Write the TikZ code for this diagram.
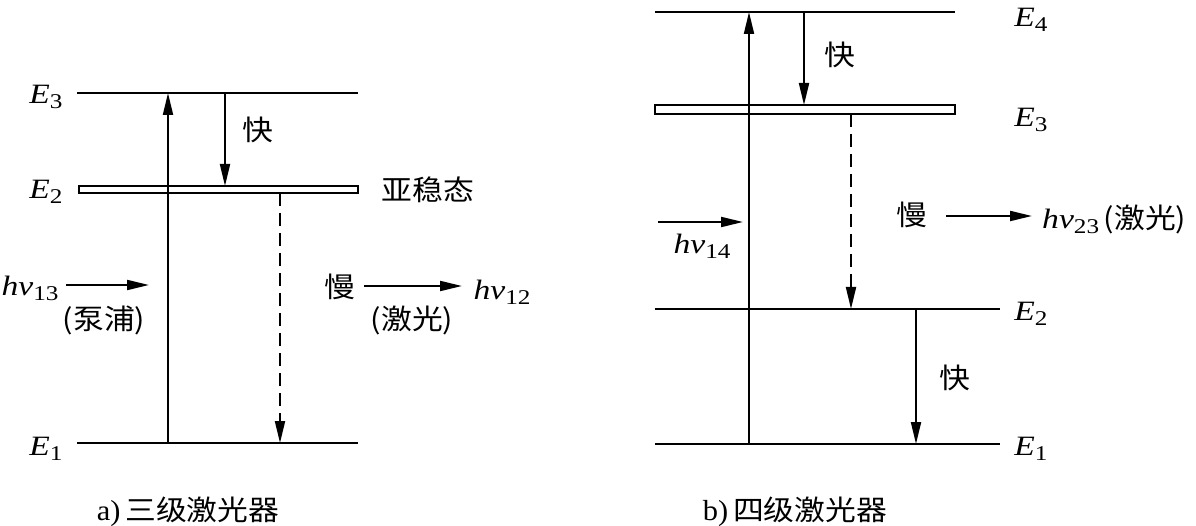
\documentclass[tikz,border=0pt]{standalone}
\usepackage{fontspec}
\setmainfont{Liberation Serif}[FakeStretch=1.2]
\newfontfamily\cjk{Noto Sans CJK SC}[FakeStretch=1.1]
\usetikzlibrary{arrows.meta}
\newcommand{\lvsub}[1]{\raisebox{-0.4ex}{\fontsize{21}{21}\selectfont #1}}
\newcommand{\En}[1]{\textit{E}\lvsub{#1}}
\newcommand{\hv}[1]{\textit{hv}\lvsub{#1}}
\begin{document}
\begin{tikzpicture}[x=1pt,y=-1pt,
  lvl/.style={line width=2pt},
  arr/.style={line width=2pt,-{Triangle[length=22pt,width=10pt]}},
  dsh/.style={arr,dash pattern=on 13pt off 7pt},
  lab/.style={font=\fontsize{28}{30}\selectfont, inner sep=0pt},
  zh/.style={font=\fontsize{28}{31}\selectfont\cjk, inner sep=0pt}]
\useasboundingbox (0,0) rectangle (1196,526);
% ---------- left: three-level laser ----------
\coordinate (a3w) at (77,93);  \coordinate (a3e) at (358,93);
\coordinate (a1w) at (77,443); \coordinate (a1e) at (358,443);
\draw[lvl] (a3w) -- (a3e);
\draw[lvl] (a1w) -- (a1e);
\draw[lvl] (79,186) rectangle (358,193);
\coordinate (ap0) at (168,443); \coordinate (ap1) at (168,93);
\coordinate (af0) at (225,93);  \coordinate (af1) at (225,186);
\coordinate (ad0) at (280,193); \coordinate (ad1) at (280,443);
\draw[arr] (ap0) -- (ap1);
\draw[arr] (af0) -- (af1);
\draw[dsh] (ad0) -- (ad1);
\node[lab] (aE3) at (46,97) {\En{3}};
\node[lab] (aE2) at (46,192) {\En{2}};
\node[lab] (aE1) at (46,449) {\En{1}};
\node[zh] (afast) at (258,130) {快};
\node[zh] (ameta) at (428,190) {亚稳态};
\node[lab] (ahv13) at (30,288) {\hv{13}};
\node[zh] (apump) at (104,320) {(泵浦)};
\node[zh] (aslow) at (340,287) {慢};
\node[zh] (alaser) at (412,320) {(激光)};
\node[lab] (ahv12) at (502,292) {\hv{12}};
\coordinate (ain0) at (66,285); \coordinate (ain1) at (149,285);
\coordinate (aout0) at (364,286); \coordinate (aout1) at (462,286);
\draw[arr] (ain0) -- (ain1);
\draw[arr] (aout0) -- (aout1);
\node[zh] (capa) at (188,512) {\fontspec{Liberation Serif}[FakeStretch=1.05]\fontsize{29}{31}\selectfont a)\,\cjk\fontsize{28}{31}\selectfont 三级激光器};
% ---------- right: four-level laser ----------
\coordinate (b4w) at (655,12);  \coordinate (b4e) at (955,12);
\coordinate (b2w) at (655,309); \coordinate (b2e) at (1000,309);
\coordinate (b1w) at (655,444); \coordinate (b1e) at (1000,444);
\draw[lvl] (b4w) -- (b4e);
\draw[lvl] (b2w) -- (b2e);
\draw[lvl] (b1w) -- (b1e);
\draw[lvl] (655,105) rectangle (955,114);
\coordinate (bp0) at (749,444); \coordinate (bp1) at (749,12);
\coordinate (bf0) at (804,12);  \coordinate (bf1) at (804,105);
\coordinate (bd0) at (851,114); \coordinate (bd1) at (851,309);
\coordinate (bg0) at (916,309); \coordinate (bg1) at (916,444);
\draw[arr] (bp0) -- (bp1);
\draw[arr] (bf0) -- (bf1);
\draw[dsh] (bd0) -- (bd1);
\draw[arr] (bg0) -- (bg1);
\node[lab] (bE4) at (1031,20) {\En{4}};
\node[lab] (bE3) at (1031,120) {\En{3}};
\node[lab] (bE2) at (1031,314) {\En{2}};
\node[lab] (bE1) at (1031,449) {\En{1}};
\node[zh] (bfast1) at (840,55) {快};
\node[zh] (bfast2) at (955,378) {快};
\node[zh] (bslow) at (912,215) {慢};
\node[lab] (bhv14) at (702,246) {\hv{14}};
\node[lab,anchor=west] (bhv23) at (1042,219) {\hv{23}\,{\cjk\fontsize{28}{31}\selectfont(激光)}};
\coordinate (bin0) at (658,222); \coordinate (bin1) at (743,222);
\coordinate (bout0) at (946,216); \coordinate (bout1) at (1032,216);
\draw[arr] (bin0) -- (bin1);
\draw[arr] (bout0) -- (bout1);
\node[zh] (capb) at (795,512) {\fontspec{Liberation Serif}[FakeStretch=1.05]\fontsize{29}{31}\selectfont b)\,\cjk\fontsize{28}{31}\selectfont 四级激光器};
\end{tikzpicture}
\end{document}
